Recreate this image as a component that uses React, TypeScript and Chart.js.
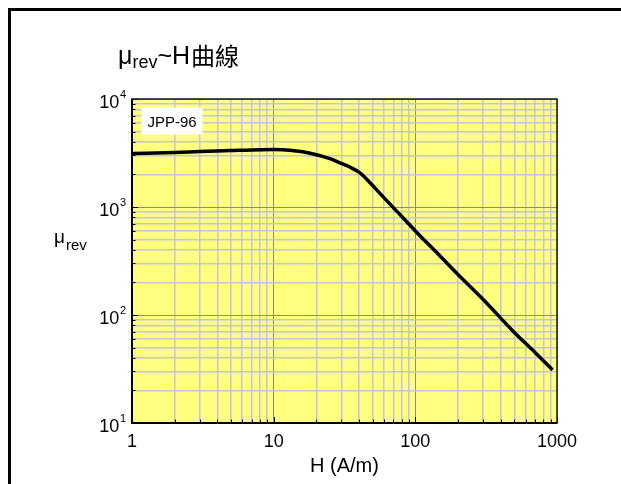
import { useEffect, useRef } from "react";
import { Chart, registerables } from "chart.js";

Chart.register(...registerables);

// ---- data ----
const fieldH = [1, 2, 3, 5, 7, 10, 13, 16, 20, 25, 30, 35, 40, 45, 50, 60, 70, 80, 100, 150, 200, 300, 500, 700, 930];
const muRev = [3130, 3200, 3260, 3330, 3380, 3400, 3360, 3250, 3050, 2800, 2530, 2320, 2100, 1830, 1580, 1220, 985, 820, 600, 350, 237, 140, 69, 45, 31];

const xMin = 1;
const xMax = 1000;
const yMin = 10;
const yMax = 10000;
const xTickValues = [1, 10, 100, 1000];
const xTickLabels = ["1", "10", "100", "1000"];
const yTickValues = [10, 100, 1000, 10000];
const yTickExponents = ["1", "2", "3", "4"];

const titleBase = "μ";
const titleSub = "rev";
const titleRest = "~H";
const titleCJK = "曲線";
const yLabelBase = "μ";
const yLabelSub = "rev";
const xAxisTitle = "H (A/m)";
const seriesLabel = "JPP-96";

const LATIN = "'Liberation Sans', Arial, sans-serif";
const CJK = "'Noto Sans CJK TC', 'Noto Sans CJK SC', sans-serif";

function decadeTicks(min: number, max: number): number[] {
  const out: number[] = [];
  for (let d = min; d < max; d *= 10) {
    for (let k = 1; k < 10; k++) out.push(d * k);
  }
  out.push(max);
  return out;
}

function isPow10(v: number): boolean {
  if (!v) return false;
  const l = Math.log10(v);
  return Math.abs(l - Math.round(l)) < 1e-9;
}

const decor = {
  id: "decor",
  beforeDraw(chart: any) {
    const { ctx, chartArea: a } = chart;
    ctx.save();
    ctx.fillStyle = "#ffffff";
    ctx.fillRect(0, 0, chart.width, chart.height);
    ctx.fillStyle = "#ffff80";
    ctx.fillRect(a.left, a.top, a.right - a.left, a.bottom - a.top);
    ctx.restore();
  },
  beforeDatasetsDraw(chart: any) {
    const { ctx, chartArea: a } = chart;
    ctx.save();
    ctx.fillStyle = "#ffffff";
    ctx.fillRect(a.left + 9.5, a.top + 8.5, 61, 27);
    ctx.fillStyle = "#000";
    ctx.font = `15px ${LATIN}`;
    ctx.textBaseline = "alphabetic";
    ctx.textAlign = "left";
    ctx.fillText(seriesLabel, a.left + 15.5, a.top + 28);
    ctx.restore();
  },
  afterDatasetsDraw(chart: any) {
    const { ctx, chartArea: a } = chart;
    const xs = chart.scales.x;
    const ys = chart.scales.y;
    ctx.save();

    // inward tick marks
    ctx.strokeStyle = "#000";
    ctx.lineWidth = 1;
    ctx.beginPath();
    for (const t of xs.ticks) {
      const px = Math.round(xs.getPixelForValue(t.value)) + 0.5;
      const len = isPow10(t.value) ? 6 : 3.5;
      ctx.moveTo(px, a.bottom);
      ctx.lineTo(px, a.bottom - len);
    }
    for (const t of ys.ticks) {
      const py = Math.round(ys.getPixelForValue(t.value)) + 0.5;
      const len = isPow10(t.value) ? 6 : 3.5;
      ctx.moveTo(a.left, py);
      ctx.lineTo(a.left + len, py);
    }
    ctx.stroke();

    // plot frame
    ctx.strokeStyle = "#1a1a1a";
    ctx.lineWidth = 1.5;
    ctx.strokeRect(a.left, a.top, a.right - a.left, a.bottom - a.top);
    ctx.strokeStyle = "#000";
    ctx.lineWidth = 2;
    ctx.beginPath();
    ctx.moveTo(a.left, a.top);
    ctx.lineTo(a.left, a.bottom);
    ctx.lineTo(a.right, a.bottom);
    ctx.stroke();

    ctx.fillStyle = "#000";
    ctx.textBaseline = "alphabetic";

    // x tick labels
    ctx.font = `18px ${LATIN}`;
    ctx.textAlign = "center";
    xTickValues.forEach((v, i) => {
      ctx.fillText(xTickLabels[i], xs.getPixelForValue(v), a.bottom + 23.5);
    });

    // y tick labels 10^n
    yTickValues.forEach((v, i) => {
      const py = ys.getPixelForValue(v);
      ctx.font = `11px ${LATIN}`;
      const supW = ctx.measureText(yTickExponents[i]).width;
      ctx.textAlign = "right";
      const right = a.left - 6;
      ctx.fillText(yTickExponents[i], right, py - 1);
      ctx.font = `18px ${LATIN}`;
      ctx.fillText("10", right - supW - 0.5, py + 8.5);
    });

    // x axis title
    ctx.font = `20px ${LATIN}`;
    ctx.textAlign = "center";
    ctx.fillText(xAxisTitle, (a.left + a.right) / 2, a.bottom + 48.5);

    // y axis title μ_rev
    ctx.textAlign = "left";
    ctx.font = `19px ${LATIN}`;
    ctx.fillText(yLabelBase, 54, 243);
    const muW = ctx.measureText(yLabelBase).width;
    ctx.font = `15px ${LATIN}`;
    ctx.fillText(yLabelSub, 54 + muW + 1, 250);

    // chart title
    let x = 118;
    ctx.font = `25px ${LATIN}`;
    ctx.fillText(titleBase, x, 64);
    x += ctx.measureText(titleBase).width;
    ctx.font = `18px ${LATIN}`;
    ctx.fillText(titleSub, x, 68);
    x += ctx.measureText(titleSub).width;
    ctx.font = `25px ${LATIN}`;
    ctx.fillText(titleRest, x, 64);
    x += ctx.measureText(titleRest).width + 1;
    ctx.font = `24px ${CJK}`;
    ctx.fillText(titleCJK, x, 65);

    // outer border (left and top visible)
    ctx.fillStyle = "#000";
    ctx.fillRect(8, 8, chart.width - 8, 3);
    ctx.fillRect(8, 8, 3, chart.height - 8);

    ctx.restore();
  },
};

export default function App() {
  const canvasRef = useRef<HTMLCanvasElement | null>(null);

  useEffect(() => {
    const canvas = canvasRef.current;
    if (!canvas) return;
    const points = fieldH.map((h, i) => ({ x: h, y: muRev[i] }));
    const gridColor = (c: any) => (c.tick && isPow10(c.tick.value) ? "#8c8c78" : "#c4c4d6");
    const gridWidth = (c: any) => (c.tick && isPow10(c.tick.value) ? 1 : 1.5);

    const chart = new Chart(canvas, {
      type: "line",
      data: {
        datasets: [
          {
            label: seriesLabel,
            data: points,
            borderColor: "#000000",
            borderWidth: 3.5,
            pointRadius: 0,
            fill: false,
            cubicInterpolationMode: "monotone",
          },
        ],
      },
      options: {
        animation: false,
        responsive: false,
        devicePixelRatio: 1,
        layout: { padding: { left: 132, top: 99, right: 64, bottom: 61 } },
        plugins: {
          legend: { display: false },
          title: { display: false },
          tooltip: { enabled: false },
        },
        scales: {
          x: {
            type: "logarithmic",
            min: xMin,
            max: xMax,
            border: { display: false },
            grid: { color: gridColor, lineWidth: gridWidth, drawTicks: false },
            ticks: { display: false },
            afterBuildTicks: (s: any) => {
              s.ticks = decadeTicks(xMin, xMax).map((v) => ({ value: v }));
            },
            afterFit: (s: any) => {
              s.height = 0;
            },
          },
          y: {
            type: "logarithmic",
            min: yMin,
            max: yMax,
            border: { display: false },
            grid: { color: gridColor, lineWidth: gridWidth, drawTicks: false },
            ticks: { display: false },
            afterBuildTicks: (s: any) => {
              s.ticks = decadeTicks(yMin, yMax).map((v) => ({ value: v }));
            },
            afterFit: (s: any) => {
              s.width = 0;
            },
          },
        },
      },
      plugins: [decor],
    } as any);

    return () => chart.destroy();
  }, []);

  return (
    <div style={{ position: "fixed", left: 0, top: 0, width: 621, height: 484 }}>
      <canvas ref={canvasRef} width={621} height={484} style={{ display: "block", width: 621, height: 484 }} />
    </div>
  );
}
